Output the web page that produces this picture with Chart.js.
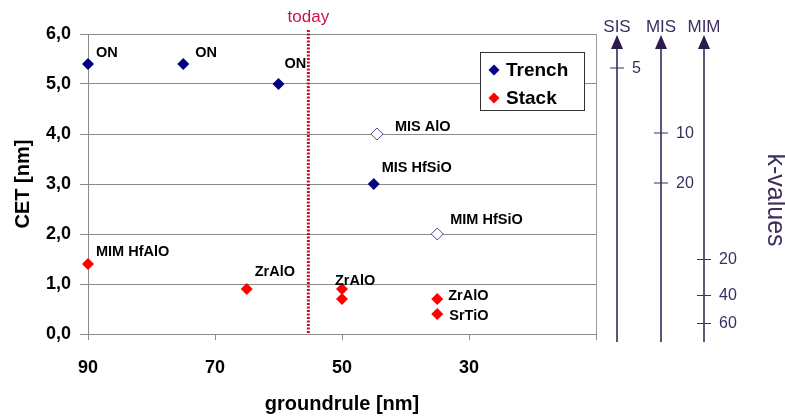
<!DOCTYPE html>
<html>
<head>
<meta charset="utf-8">
<script src="https://cdn.jsdelivr.net/npm/chart.js@4"></script>
<style>
  html, body { margin: 0; padding: 0; background: #fff; }
</style>
</head>
<body>
<canvas id="cetChart" width="785" height="416"></canvas>
<script>
// values
const trenchX = [90, 75, 60, 45];
const trenchY = [5.4, 5.4, 5.0, 3.0];
const trenchNames = ["ON", "ON", "ON", "MIS HfSiO"];

const openX = [44.5, 35];
const openY = [4.0, 2.0];
const openNames = ["MIS AlO", "MIM HfSiO"];

const stackX = [90, 65, 50, 50, 35, 35];
const stackY = [1.4, 0.9, 0.9, 0.7, 0.7, 0.4];
const stackNames = ["MIM HfAlO", "ZrAlO", "ZrAlO", "", "ZrAlO", "SrTiO"];

const todayX = 55.3;

// k-value axes: tick labels and the CET level they sit at
const kAxisNames = ["SIS", "MIS", "MIM"];
const kSisTicks = [5];
const kSisAt = [5.33];
const kMisTicks = [10, 20];
const kMisAt = [4.03, 3.03];
const kMimTicks = [20, 40, 60];
const kMimAt = [1.5, 0.78, 0.22];

// label offsets in px (style only)
const trenchLabelOff = [[8, -11], [12, -11], [6, -20], [8, -16]];
const openLabelOff = [[18, -7], [13, -14]];
const stackLabelOff = [[8, -12], [8, -17], [-7, -8], [0, 0], [11, -3], [12, 2]];

const FONT = "'Liberation Sans', Arial, sans-serif";
const NAVY = "#000080";
const RED = "#ff0000";
const PURPLE = "#2d1b4e";
const PURPLE_TXT = "#3d2e5e";

const toPts = (xs, ys) => xs.map((x, i) => ({ x: x, y: ys[i] }));

const extras = {
  id: "extras",
  beforeDatasetsDraw(chart) {
    const { ctx, chartArea, scales } = chart;
    const x = scales.x.getPixelForValue(todayX);
    ctx.save();
    // right frame line
    ctx.strokeStyle = "#9a9a9a";
    ctx.lineWidth = 1;
    ctx.beginPath();
    ctx.moveTo(chartArea.right + 0.5, chartArea.top);
    ctx.lineTo(chartArea.right + 0.5, chartArea.bottom);
    ctx.stroke();
    // today line
    ctx.strokeStyle = "#c8102e";
    ctx.lineWidth = 3;
    ctx.setLineDash([2, 1.5]);
    ctx.beginPath();
    ctx.moveTo(x, chartArea.top - 4);
    ctx.lineTo(x, chartArea.bottom);
    ctx.stroke();
    ctx.setLineDash([]);
    ctx.fillStyle = "#cc1144";
    ctx.font = "17px " + FONT;
    ctx.textAlign = "center";
    ctx.textBaseline = "middle";
    ctx.fillText("today", x, 17);
    ctx.restore();
  },
  afterDatasetsDraw(chart) {
    const { ctx, chartArea, scales } = chart;
    const xs = scales.x, ys = scales.y;
    ctx.save();
    ctx.fillStyle = "#000";
    ctx.font = "bold 14.5px " + FONT;
    ctx.textAlign = "left";
    ctx.textBaseline = "middle";
    const put = (px, py, names, offs) => {
      names.forEach((n, i) => {
        if (!n) return;
        ctx.fillText(n, xs.getPixelForValue(px[i]) + offs[i][0], ys.getPixelForValue(py[i]) + offs[i][1]);
      });
    };
    put(trenchX, trenchY, trenchNames, trenchLabelOff);
    put(openX, openY, openNames, openLabelOff);
    put(stackX, stackY, stackNames, stackLabelOff);

    // legend box
    const lx = 480, ly = 52, lw = 104, lh = 58;
    ctx.fillStyle = "#fff";
    ctx.fillRect(lx, ly, lw, lh);
    ctx.strokeStyle = "#333";
    ctx.lineWidth = 1;
    ctx.strokeRect(lx + 0.5, ly + 0.5, lw, lh);
    const diamond = (cx, cy, r, color) => {
      ctx.fillStyle = color;
      ctx.beginPath();
      ctx.moveTo(cx, cy - r);
      ctx.lineTo(cx + r, cy);
      ctx.lineTo(cx, cy + r);
      ctx.lineTo(cx - r, cy);
      ctx.closePath();
      ctx.fill();
    };
    diamond(494, 70, 5.5, NAVY);
    diamond(494, 98, 5.5, RED);
    ctx.fillStyle = "#000";
    ctx.font = "bold 19px " + FONT;
    ctx.fillText("Trench", 506, 71);
    ctx.fillText("Stack", 506, 99);

    // k-value axes on the right
    const axX = [chartArea.right + 21, chartArea.right + 65, chartArea.right + 108];
    const ticks = [kSisTicks, kMisTicks, kMimTicks];
    const at = [kSisAt, kMisAt, kMimAt];
    const topY = ys.getPixelForValue(6) + 3;
    const botY = chartArea.bottom + 8;
    axX.forEach((ax, i) => {
      ctx.strokeStyle = PURPLE;
      ctx.lineWidth = 1.5;
      ctx.beginPath();
      ctx.moveTo(ax, topY + 10);
      ctx.lineTo(ax, botY);
      ctx.stroke();
      ctx.fillStyle = PURPLE;
      ctx.beginPath();
      ctx.moveTo(ax, topY - 2);
      ctx.lineTo(ax + 6, topY + 12);
      ctx.lineTo(ax - 6, topY + 12);
      ctx.closePath();
      ctx.fill();
      ctx.fillStyle = PURPLE_TXT;
      ctx.font = "17px " + FONT;
      ctx.textAlign = "center";
      ctx.fillText(kAxisNames[i], ax, 27);
      ctx.font = "16px " + FONT;
      ctx.textAlign = "left";
      ticks[i].forEach((t, j) => {
        const ty = ys.getPixelForValue(at[i][j]);
        ctx.strokeStyle = PURPLE_TXT;
        ctx.lineWidth = 1;
        ctx.beginPath();
        ctx.moveTo(ax - 7, ty + 0.5);
        ctx.lineTo(ax + 7, ty + 0.5);
        ctx.stroke();
        ctx.fillText(String(t), ax + 15, ty + 1);
      });
    });
    ctx.save();
    ctx.translate(775, 200);
    ctx.rotate(Math.PI / 2);
    ctx.fillStyle = PURPLE_TXT;
    ctx.font = "25px " + FONT;
    ctx.textAlign = "center";
    ctx.fillText("k-values", 0, 0);
    ctx.restore();
    ctx.restore();
  }
};

new Chart(document.getElementById("cetChart"), {
  type: "scatter",
  data: {
    datasets: [
      {
        label: "Trench",
        data: toPts(trenchX, trenchY),
        pointStyle: "rectRot",
        pointRadius: 6,
        backgroundColor: NAVY,
        borderColor: NAVY,
        borderWidth: 0,
        clip: false,
      },
      {
        label: "Trench (open)",
        data: toPts(openX, openY),
        pointStyle: "rectRot",
        pointRadius: 6,
        backgroundColor: "#fff",
        borderColor: "#4b4ba0",
        borderWidth: 1,
        clip: false,
      },
      {
        label: "Stack",
        data: toPts(stackX, stackY),
        pointStyle: "rectRot",
        pointRadius: 6,
        backgroundColor: RED,
        borderColor: RED,
        borderWidth: 0,
        clip: false,
      },
    ],
  },
  options: {
    responsive: false,
    animation: false,
    layout: { padding: { left: 0, top: 34, right: 189, bottom: 0 } },
    plugins: {
      legend: { display: false },
      tooltip: { enabled: false },
    },
    scales: {
      x: {
        type: "linear",
        reverse: true,
        min: 10,
        max: 90,
        afterFit: (s) => { s.height = 82; },
        ticks: {
          stepSize: 20,
          padding: 17,
          color: "#000",
          font: { family: FONT, size: 18, weight: "bold" },
          callback: (v) => (v === 10 ? "" : v),
        },
        grid: { drawOnChartArea: false, tickLength: 6, color: "#8a8a8a" },
        border: { color: "#8a8a8a" },
        title: {
          display: true,
          text: "groundrule [nm]",
          color: "#000",
          padding: 0,
          font: { family: FONT, size: 20, weight: "bold" },
        },
      },
      y: {
        min: 0,
        max: 6,
        afterFit: (s) => { s.width = 88; },
        ticks: {
          stepSize: 1,
          padding: 9,
          color: "#000",
          font: { family: FONT, size: 18, weight: "bold" },
          callback: (v) => v.toFixed(1).replace(".", ","),
        },
        grid: { color: "#8a8a8a", tickLength: 8 },
        border: { color: "#8a8a8a" },
        title: {
          display: true,
          text: "CET [nm]",
          color: "#000",
          padding: 11,
          font: { family: FONT, size: 20, weight: "bold" },
        },
      },
    },
  },
  plugins: [extras],
});
</script>
</body>
</html>
